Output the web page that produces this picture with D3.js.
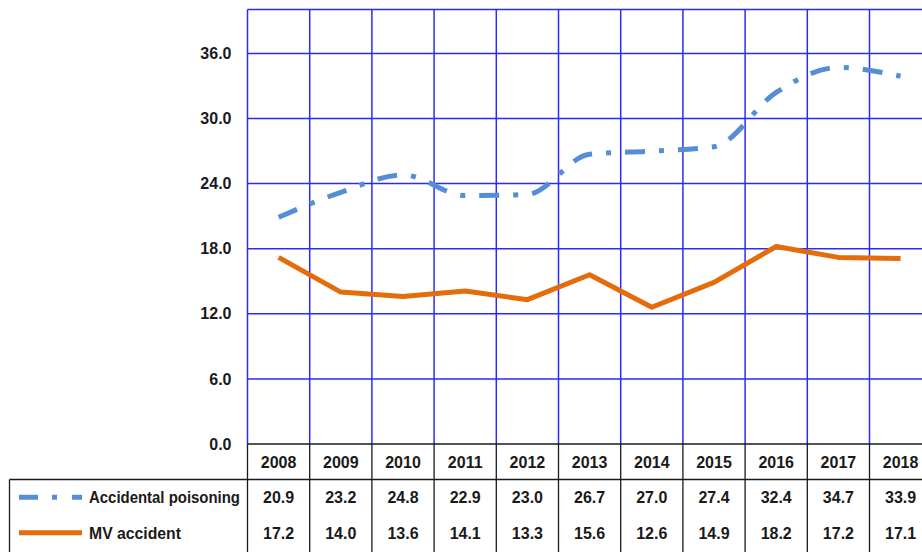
<!DOCTYPE html>
<html>
<head>
<meta charset="utf-8">
<script src="https://cdn.jsdelivr.net/npm/d3@7"></script>
<style>
  html, body { margin: 0; padding: 0; background: #fff; overflow: hidden; }
  svg { display: block; }
  text { font-family: "Liberation Sans", Arial, sans-serif; font-weight: bold; fill: #1a1a1a; }
</style>
</head>
<body>
<svg id="chart" width="922" height="552"></svg>
<script>
// Death rates by year
const years = ["2008","2009","2010","2011","2012","2013","2014","2015","2016","2017","2018"];
const poisoning = [20.9, 23.2, 24.8, 22.9, 23.0, 26.7, 27.0, 27.4, 32.4, 34.7, 33.9];
const mvAccident = [17.2, 14.0, 13.6, 14.1, 13.3, 15.6, 12.6, 14.9, 18.2, 17.2, 17.1];
const yTicks = [0, 6, 12, 18, 24, 30, 36];
const seriesNames = ["Accidental poisoning", "MV accident"];

const svg = d3.select("#chart");

const plotLeft = 247.5, plotTop = 9.5, plotBottom = 444;
const colW = 62.2;
const plotRight = plotLeft + colW * years.length;

const x = d3.scaleBand().domain(years).range([plotLeft, plotRight]).paddingInner(0).paddingOuter(0);
const y = d3.scaleLinear().domain([0, 40]).range([plotBottom, plotTop + 0.5]);

const gridColor = "#2a2aff";
const blue = "#568ed6";
const orange = "#e46c0a";
const fontSize = "16px";

// horizontal gridlines (plus the top border)
const hLines = yTicks.filter(d => d > 0).map(d => y(d)).concat([plotTop]);
svg.append("g").selectAll("line").data(hLines).join("line")
  .attr("x1", plotLeft).attr("x2", plotRight)
  .attr("y1", d => d).attr("y2", d => d)
  .attr("stroke", gridColor).attr("stroke-width", 1.5);

// vertical gridlines at category boundaries
const bounds = years.map(d => x(d)).concat([plotRight]);
svg.append("g").selectAll("line").data(bounds).join("line")
  .attr("x1", d => d).attr("x2", d => d)
  .attr("y1", plotTop).attr("y2", plotBottom)
  .attr("stroke", gridColor).attr("stroke-width", 1.5);

// y axis labels
const yAxis = d3.axisLeft(y).tickValues(yTicks).tickFormat(d3.format(".1f")).tickSize(0).tickPadding(16);
const ya = svg.append("g").attr("transform", `translate(${plotLeft},0)`).call(yAxis);
ya.select(".domain").remove();
ya.selectAll("text").style("font-size", fontSize).style("font-family", null).attr("fill", "#1a1a1a");

// data table
const rowTop = plotBottom, rowH = 35.5;
const tbl = svg.append("g");
const lineAttrs = s => s.attr("stroke", "#1a1a1a").attr("stroke-width", 1.3);
// horizontal rules
tbl.append("line").attr("x1", plotLeft).attr("x2", plotRight).attr("y1", rowTop).attr("y2", rowTop).call(lineAttrs);
tbl.append("line").attr("x1", 9.5).attr("x2", plotRight).attr("y1", rowTop + rowH).attr("y2", rowTop + rowH).call(lineAttrs);
// vertical rules
tbl.selectAll("line.v").data(bounds).join("line").attr("class", "v")
  .attr("x1", d => d).attr("x2", d => d).attr("y1", rowTop).attr("y2", 560).call(lineAttrs);
tbl.append("line").attr("x1", 9.5).attr("x2", 9.5).attr("y1", rowTop + rowH).attr("y2", 560).call(lineAttrs);

// header years
tbl.selectAll("text.yr").data(years).join("text").attr("class", "yr")
  .attr("x", d => x(d) + x.bandwidth() / 2).attr("y", rowTop + rowH / 2 + 6)
  .attr("text-anchor", "middle").style("font-size", fontSize).text(d => d);

const rows = [poisoning, mvAccident];
rows.forEach((vals, i) => {
  tbl.selectAll(`text.r${i}`).data(vals).join("text").attr("class", `r${i}`)
    .attr("x", (d, j) => x(years[j]) + x.bandwidth() / 2)
    .attr("y", rowTop + rowH * (i + 1.5) + 6)
    .attr("text-anchor", "middle").style("font-size", fontSize)
    .text(d => d.toFixed(1));
});

// legend keys in the table
const keyY0 = rowTop + rowH * 1.5, keyY1 = rowTop + rowH * 2.5;
tbl.append("line").attr("x1", 19).attr("x2", 82).attr("y1", keyY0).attr("y2", keyY0)
  .attr("stroke", blue).attr("stroke-width", 5).attr("stroke-dasharray", "19,14,5,15");
tbl.append("line").attr("x1", 19).attr("x2", 82).attr("y1", keyY1).attr("y2", keyY1)
  .attr("stroke", orange).attr("stroke-width", 5);
const legendWidths = [151, 92];
tbl.selectAll("text.lg").data(seriesNames).join("text").attr("class", "lg")
  .attr("x", 89).attr("y", (d, i) => rowTop + rowH * (i + 1.5) + 6)
  .attr("textLength", (d, i) => legendWidths[i]).attr("lengthAdjust", "spacingAndGlyphs")
  .style("font-size", fontSize).text(d => d);

// series lines
const cx = d => x(d) + x.bandwidth() / 2;
const smooth = d3.line().x((d, i) => cx(years[i])).y(d => y(d)).curve(d3.curveMonotoneX);
const straight = d3.line().x((d, i) => cx(years[i])).y(d => y(d));

svg.append("path").datum(mvAccident).attr("d", straight)
  .attr("fill", "none").attr("stroke", orange).attr("stroke-width", 5).attr("stroke-linejoin", "round");
svg.append("path").datum(poisoning).attr("d", smooth)
  .attr("fill", "none").attr("stroke", blue).attr("stroke-width", 5)
  .attr("stroke-dasharray", "20,14,5,14");
</script>
</body>
</html>
